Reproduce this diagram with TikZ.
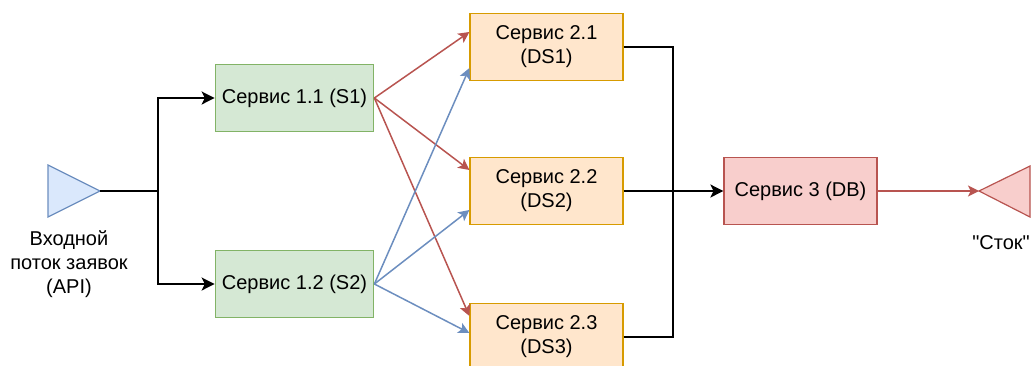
\documentclass[tikz,border=0pt]{standalone}
\usepackage{fontspec}
\setmainfont{Liberation Sans}[Ligatures=TeXOff]
\usetikzlibrary{arrows.meta}
\definecolor{grfill}{HTML}{D5E8D4}
\definecolor{grline}{HTML}{82B366}
\definecolor{orfill}{HTML}{FFE6CC}
\definecolor{orline}{HTML}{D79B00}
\definecolor{rdfill}{HTML}{F8CECC}
\definecolor{rdline}{HTML}{B85450}
\definecolor{blfill}{HTML}{DAE8FC}
\definecolor{blline}{HTML}{6C8EBF}

\begin{document}
\begin{tikzpicture}[x=0.5pt,y=-0.5pt,
		font=\fontsize{10}{12}\selectfont,
		srv/.style={draw, align=center, minimum width=76.5pt, minimum height=33.5pt, line width=0.6pt},
		lvlone/.style={srv, fill=grfill, draw=grline},
		lvltwo/.style={srv, fill=orfill, draw=orline},
		lvlthree/.style={srv, fill=rdfill, draw=rdline},
		blkarr/.style={line width=0.9pt, -{Stealth[length=6.5pt,width=6.5pt,inset=1.6pt]}},
		redarr/.style={rdline, line width=0.75pt, -{Stealth[length=5.5pt,width=5.5pt,inset=1.3pt]}},
		bluearr/.style={blline, line width=0.75pt, -{Stealth[length=5.5pt,width=5.5pt,inset=1.3pt]}}]
		\useasboundingbox (0,0) rectangle (1033,365);
		% source and sink
		\draw[fill=blfill, draw=blline, line width=0.6pt] (48,165) -- (100,191) -- (48,217) -- cycle;
		\coordinate (apiTip) at (100,191);
		\node[align=center] (apiLbl) at (69,264) {Входной\\поток заявок\\(API)};
		\draw[fill=rdfill, draw=rdline, line width=0.6pt] (1030,166) -- (979,191) -- (1030,217) -- cycle;
		\coordinate (sinkTip) at (979,191);
		\node (sinkLbl) at (1001,243) {"Сток"};
		% services
		\node[lvlone] (S1) at (294.5,98) {Сервис 1.1 (S1)};
		\node[lvlone] (S2) at (294.5,284) {Сервис 1.2 (S2)};
		\node[lvltwo] (DS1) at (546.5,47) {Сервис 2.1\\(DS1)};
		\node[lvltwo] (DS2) at (546.5,191) {Сервис 2.2\\(DS2)};
		\node[lvltwo] (DS3) at (546.5,337) {Сервис 2.3\\(DS3)};
		\node[lvlthree] (DB) at (800.5,191) {Сервис 3 (DB)};
		% links
		\coordinate (split) at (158,191);
		\coordinate (join) at (673,191);
		\draw[line width=0.9pt] (apiTip) -- (split);
		\draw[blkarr] (split) |- (S1.west);
		\draw[blkarr] (split) |- (S2.west);
		\draw[redarr] (S1.east) -- ([yshift=7.5pt]DS1.west);
		\draw[redarr] (S1.east) -- ([yshift=10.5pt]DS2.west);
		\draw[redarr] (S1.east) -- ([yshift=10.5pt]DS3.west);
		\draw[bluearr] (S2.east) -- ([yshift=-10.5pt]DS1.west);
		\draw[bluearr] (S2.east) -- ([yshift=-9.5pt]DS2.west);
		\draw[bluearr] (S2.east) -- ([yshift=2pt]DS3.west);
		\draw[line width=0.9pt] (DS1.east) -| (join);
		\draw[line width=0.9pt] (DS3.east) -| (join);
		\draw[blkarr] (DS2.east) -- (DB.west);
		\draw[redarr] (DB.east) -- (sinkTip);
\end{tikzpicture}
\end{document}
